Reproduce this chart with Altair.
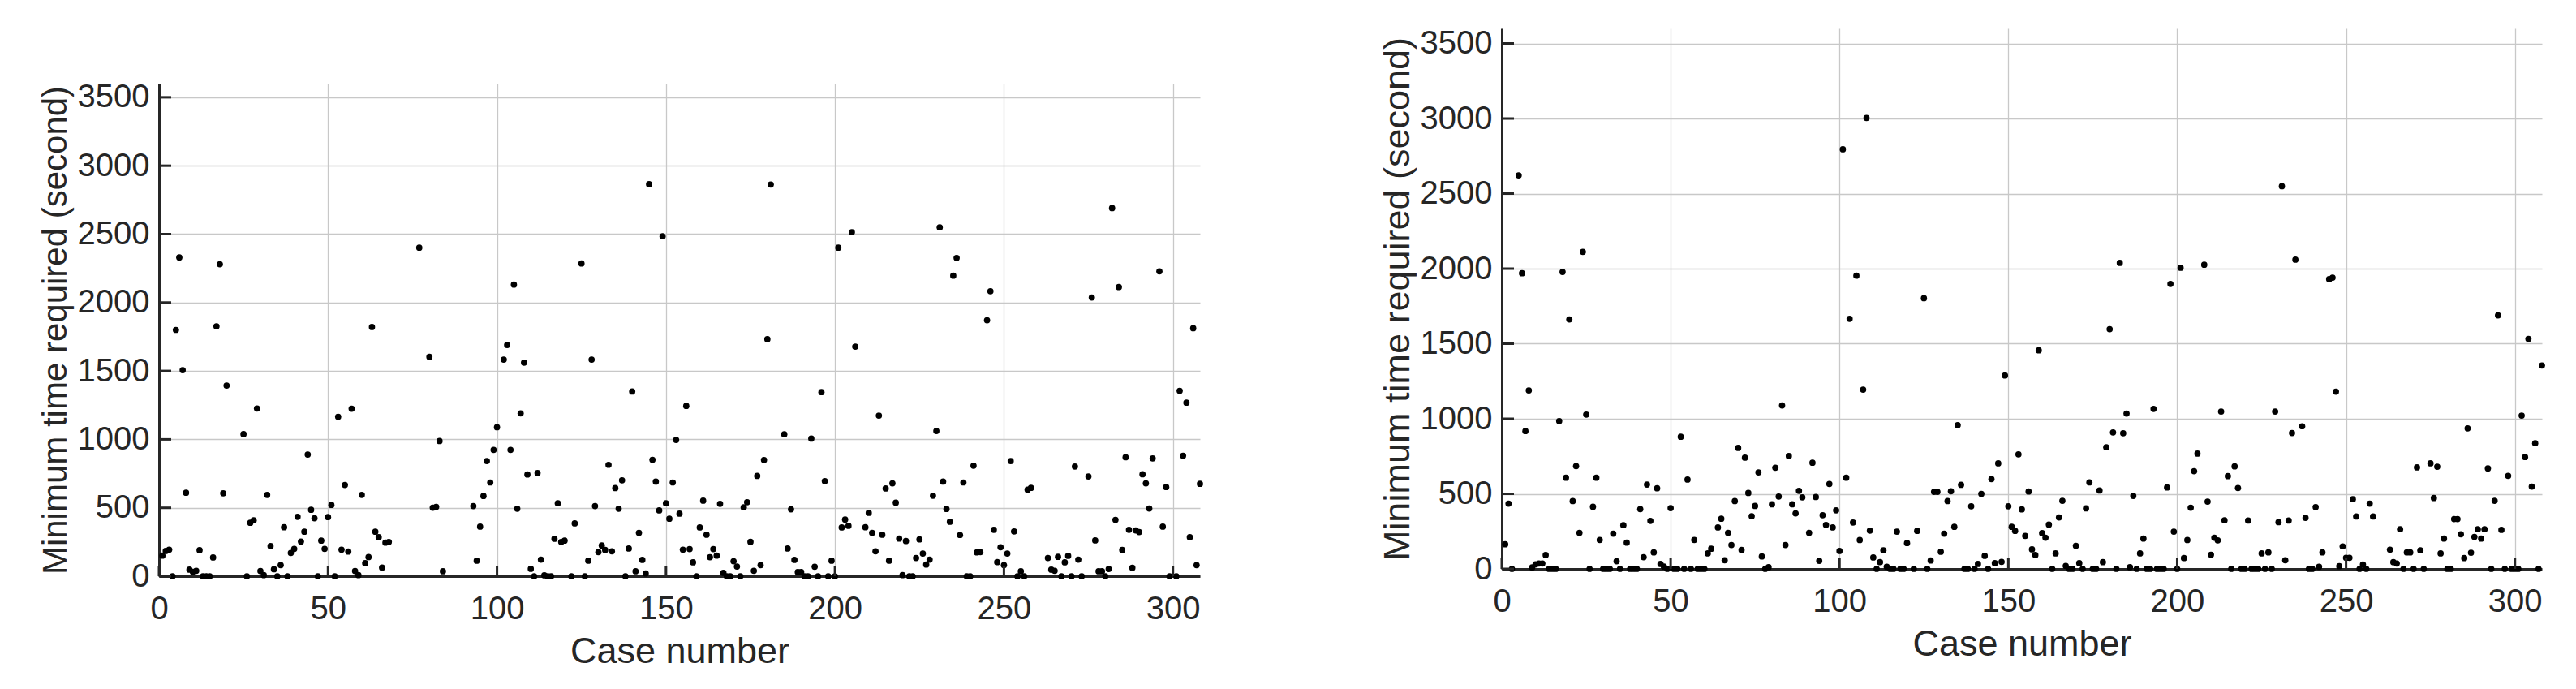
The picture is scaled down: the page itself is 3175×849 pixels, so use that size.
import altair as alt
import pandas as pd

# ---------------- data ----------------
left_case = [1, 2, 3, 4, 5, 6, 7, 8, 9, 10, 11, 12, 13, 14, 15, 16, 17, 18, 19, 20,
             25, 26, 27, 28, 29, 30, 31, 32, 33, 34, 35, 36, 37, 38, 39, 40, 41, 42, 43, 44,
             45, 46, 47, 48, 49, 50, 51, 52, 53, 54, 55, 56, 57, 58, 59, 60, 61, 62, 63, 64,
             65, 66, 67, 68, 77, 80, 81, 82, 83, 84, 93, 94, 95, 96, 97, 98, 99, 100, 102, 103,
             104, 105, 106, 107, 108, 109, 110, 111, 112, 113, 114, 115, 116, 117, 118, 119, 120, 122, 123, 125,
             126, 127, 128, 129, 130, 131, 132, 133, 134, 135, 136, 137, 138, 139, 140, 141, 142, 143, 144, 145,
             146, 147, 148, 149, 150, 151, 152, 153, 154, 155, 156, 157, 158, 159, 160, 161, 162, 163, 164, 165,
             166, 167, 168, 169, 170, 171, 172, 173, 174, 175, 176, 177, 178, 179, 180, 181, 185, 186, 187, 188,
             189, 190, 191, 192, 193, 194, 195, 196, 197, 198, 199, 200, 201, 202, 203, 204, 205, 206, 209, 210,
             211, 212, 213, 214, 215, 216, 217, 218, 219, 220, 221, 222, 223, 224, 225, 226, 227, 228, 229, 230,
             231, 232, 233, 234, 235, 236, 237, 238, 239, 240, 241, 242, 243, 245, 246, 247, 248, 249, 250, 251,
             252, 253, 254, 255, 256, 257, 258, 263, 264, 265, 266, 267, 268, 269, 270, 271, 272, 273, 275, 276,
             277, 278, 279, 280, 281, 282, 283, 284, 285, 286, 287, 288, 289, 290, 291, 292, 293, 294, 296, 297,
             298, 299, 301, 302, 303, 304, 305, 306, 307, 308]
left_time = [150, 184, 194, 0, 1800, 2330, 1506, 610, 48, 32, 40, 190, 0, 0, 0, 137, 1826, 2280, 606, 1393,
             1038, 0, 390, 408, 1226, 38, 8, 594, 220, 51, 0, 81, 358, 0, 170, 200, 434, 253, 325, 889,
             485, 424, 0, 260, 200, 432, 521, 0, 1165, 194, 667, 180, 1224, 38, 8, 594, 95, 140, 1821, 325,
             285, 63, 245, 250, 2401, 1603, 501, 507, 988, 36, 513, 113, 362, 586, 842, 685, 923, 1089, 1583, 1690,
             923, 2131, 493, 1190, 1561, 743, 54, 0, 754, 121, 6, 0, 0, 273, 533, 250, 260, 0, 386, 2285,
             0, 113, 1583, 513, 176, 224, 192, 814, 182, 644, 493, 701, 0, 202, 1350, 36, 317, 119, 20, 2865,
             851, 691, 481, 2484, 533, 420, 685, 996, 457, 194, 1244, 198, 101, 0, 356, 552, 303, 139, 198, 150,
             529, 24, 0, 0, 109, 71, 0, 503, 541, 251, 40, 733, 81, 849, 1732, 2863, 1037, 202, 489, 119,
             30, 30, 0, 0, 1006, 69, 0, 1345, 695, 0, 113, 0, 2401, 356, 414, 368, 2514, 1678, 358, 463,
             317, 182, 1174, 303, 641, 113, 679, 537, 275, 8, 257, 0, 0, 133, 269, 166, 85, 121, 588, 1061,
             2549, 691, 491, 398, 2196, 2326, 301, 685, 0, 0, 808, 174, 176, 1871, 2083, 339, 103, 212, 81, 166,
             842, 327, 0, 36, 0, 632, 645, 133, 48, 40, 141, 0, 101, 149, 0, 802, 121, 0, 729, 2037,
             261, 36, 36, 0, 53, 2690, 412, 2113, 192, 869, 339, 61, 335, 323, 745, 679, 495, 861, 2228, 362,
             651, 0, 0, 1355, 880, 1268, 285, 1812, 81, 675]

right_case = [1, 2, 3, 5, 6, 7, 8, 9, 10, 11, 12, 13, 14, 15, 16, 17, 18, 19, 20, 21,
              22, 23, 24, 25, 26, 27, 28, 29, 30, 31, 32, 33, 34, 35, 36, 37, 38, 39, 40, 41,
              42, 43, 44, 45, 46, 47, 48, 49, 50, 51, 52, 53, 54, 55, 56, 57, 58, 59, 60, 61,
              62, 64, 65, 66, 67, 68, 69, 70, 71, 72, 73, 74, 75, 76, 77, 78, 79, 80, 81, 82,
              83, 84, 85, 86, 87, 88, 89, 91, 92, 93, 94, 95, 96, 97, 98, 99, 100, 101, 102, 103,
              104, 105, 106, 107, 108, 109, 110, 111, 112, 113, 114, 115, 116, 117, 118, 119, 120, 122, 123, 125,
              126, 127, 128, 129, 130, 131, 132, 133, 134, 135, 136, 137, 138, 139, 140, 141, 142, 143, 144, 145,
              146, 147, 148, 149, 150, 151, 152, 153, 154, 155, 156, 157, 158, 159, 160, 161, 162, 163, 164, 165,
              166, 167, 168, 169, 170, 171, 172, 173, 174, 175, 176, 177, 178, 179, 180, 181, 182, 183, 184, 185,
              186, 187, 188, 189, 190, 191, 192, 193, 194, 195, 196, 197, 198, 199, 200, 201, 202, 203, 204, 205,
              206, 208, 209, 210, 211, 212, 213, 214, 215, 216, 217, 218, 219, 220, 221, 222, 223, 224, 225, 226,
              227, 228, 229, 230, 231, 232, 233, 234, 235, 237, 238, 239, 240, 241, 242, 243, 245, 246, 247, 248,
              249, 250, 251, 252, 253, 254, 255, 256, 257, 258, 263, 264, 265, 266, 267, 268, 269, 270, 271, 272,
              273, 275, 276, 277, 278, 279, 280, 281, 282, 283, 284, 285, 286, 287, 288, 289, 290, 291, 292, 293,
              294, 295, 296, 297, 298, 299, 300, 301, 302, 303, 304, 305, 306, 307, 308]
right_time = [164, 435, 0, 2621, 1969, 918, 1189, 10, 30, 36, 36, 92, 0, 0, 0, 985, 1978, 607, 1662, 452,
              685, 240, 2112, 1028, 0, 414, 607, 193, 0, 0, 0, 235, 51, 0, 291, 175, 0, 0, 0, 398,
              78, 562, 320, 110, 537, 33, 15, 0, 405, 0, 0, 880, 0, 595, 0, 193, 0, 0, 0, 103,
              134, 276, 334, 58, 240, 159, 452, 806, 126, 741, 506, 351, 419, 643, 83, 0, 11, 430, 674, 482,
              1089, 159, 752, 430, 370, 520, 477, 240, 707, 479, 54, 358, 293, 566, 276, 390, 119, 2795, 607, 1666,
              309, 1953, 192, 1194, 3004, 255, 76, 0, 45, 123, 14, 0, 0, 248, 0, 0, 172, 0, 253, 1803,
              0, 56, 513, 513, 114, 235, 452, 517, 280, 958, 560, 0, 0, 417, 0, 33, 500, 87, 0, 598,
              38, 703, 47, 1288, 417, 280, 253, 763, 396, 220, 515, 130, 92, 1456, 238, 208, 295, 0, 103, 343,
              454, 20, 0, 0, 154, 38, 0, 403, 576, 0, 0, 522, 45, 810, 1597, 909, 0, 2038, 904, 1035,
              11, 486, 0, 103, 202, 0, 0, 1066, 0, 0, 0, 542, 1898, 248, 0, 2006, 72, 192, 408, 651,
              768, 2026, 448, 94, 208, 190, 1048, 323, 618, 0, 683, 539, 0, 0, 322, 0, 0, 0, 103, 0,
              110, 0, 1048, 311, 2549, 58, 322, 905, 2060, 950, 340, 0, 0, 412, 14, 110, 1930, 1940, 1181, 18,
              150, 74, 74, 464, 349, 0, 29, 0, 435, 349, 128, 45, 36, 264, 0, 110, 110, 0, 676, 123,
              0, 703, 472, 681, 103, 202, 0, 0, 332, 332, 231, 72, 936, 108, 213, 264, 202, 264, 669, 0,
              454, 1689, 260, 0, 620, 0, 0, 0, 1021, 745, 1532, 548, 837, 0, 1355]

x_ticks = [0, 50, 100, 150, 200, 250, 300]
y_ticks = [0, 500, 1000, 1500, 2000, 2500, 3000, 3500]
x_title = "Case number"
y_title = "Minimum time required (second)"

# ---------------- styling ----------------
X_MAX = 308
Y_MAX = 3600
FONT = "Liberation Sans"
INK = "#262626"


def panel(cases, times, width, height, ytitle_size):
    xs = alt.Scale(domain=[0, X_MAX], nice=False, zero=False)
    ys = alt.Scale(domain=[0, Y_MAX], nice=False)
    pts = pd.DataFrame({"case": cases, "time": times})
    points = alt.Chart(pts).mark_circle(size=60, color="#000000", opacity=1).encode(
        x=alt.X("case:Q", scale=xs,
                axis=alt.Axis(values=x_ticks, title=x_title, format="d")),
        y=alt.Y("time:Q", scale=ys,
                axis=alt.Axis(values=y_ticks, title=y_title, format="d",
                              titleFontSize=ytitle_size)),
    )
    # inward tick marks
    ytick = alt.Chart(pd.DataFrame({"time": y_ticks})).mark_rule(
        color=INK, strokeWidth=3).encode(
        y=alt.Y("time:Q", scale=ys, title=y_title),
        x=alt.value(0), x2=alt.value(15))
    xtick = alt.Chart(pd.DataFrame({"case": x_ticks})).mark_rule(
        color=INK, strokeWidth=3).encode(
        x=alt.X("case:Q", scale=xs, title=x_title),
        y=alt.value(height), y2=alt.value(height - 13))
    return alt.layer(points, ytick, xtick).properties(width=width, height=height)


left = panel(left_case, left_time, 1283, 607, 42)
right = panel(right_case, right_time, 1282, 666, 45)

# empty band that lowers the left panel relative to the right one
spacer = alt.Chart(pd.DataFrame({"s": [0]})).mark_point(opacity=0, size=1).encode(
    x=alt.value(10), y=alt.value(10)
).properties(width=1283, height=44)
left_col = alt.vconcat(spacer, left, spacing=20)

chart = alt.hconcat(left_col, right, spacing=217).properties(
    padding={"left": 39, "top": 25, "right": 5, "bottom": 5}
).configure_axis(
    domainColor=INK, domainWidth=3, ticks=False,
    labelFont=FONT, labelFontSize=40, labelColor=INK, labelFlush=False,
    titleFont=FONT, titleFontSize=45, titleColor=INK, titleFontWeight="normal",
    gridColor="#c8c8c8", gridWidth=1.3, grid=True,
).configure_axisX(labelPadding=20, titlePadding=10).configure_axisY(
    labelPadding=12, titlePadding=5
).configure_view(stroke=None)

chart.save("out.html", embed_options={"renderer": "svg", "actions": False})
